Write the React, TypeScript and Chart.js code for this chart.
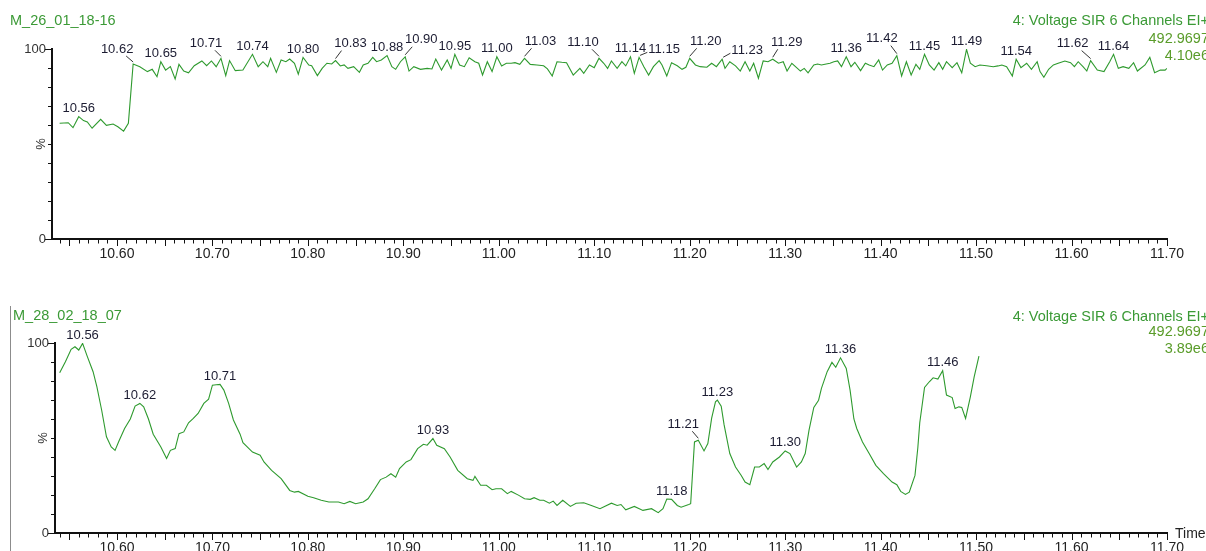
import React, { useEffect, useRef } from 'react';
import { Chart, registerables } from 'chart.js';

Chart.register(...registerables);

// ---------------------------------------------------------------------------
// Data
// ---------------------------------------------------------------------------
const RUN_TOP = 'M_26_01_18-16';
const RUN_BOTTOM = 'M_28_02_18_07';
const CHANNEL_NAME = '4: Voltage SIR 6 Channels EI+';
const CHANNEL_MASS = '492.9697';
const INTENSITY_TOP = '4.10e6';
const INTENSITY_BOTTOM = '3.89e6';
const AXIS_END_LABEL = 'Time';
const Y_AXIS_TITLE = '%';

const X_TICK_LABELS = ['10.60', '10.70', '10.80', '10.90', '11.00', '11.10', '11.20', '11.30', '11.40', '11.50', '11.60', '11.70'];
const Y_TICK_LABELS = ['0', '100'];

// Retention time (min) / relative intensity (%) — upper trace
const TOP_TIMES = [
  10.540, 10.549, 10.554, 10.560, 10.565, 10.569, 10.574, 10.583, 10.589, 10.596, 10.601, 10.607, 10.612,
  10.617, 10.624, 10.632, 10.637, 10.642, 10.646, 10.651, 10.656, 10.661, 10.665, 10.670, 10.675, 10.681,
  10.689, 10.694, 10.699, 10.704, 10.709, 10.714, 10.718, 10.724, 10.732, 10.742, 10.748, 10.753, 10.758,
  10.761, 10.767, 10.772, 10.777, 10.781, 10.786, 10.790, 10.795, 10.801, 10.804, 10.810, 10.815, 10.820,
  10.825, 10.829, 10.834, 10.838, 10.842, 10.848, 10.854, 10.858, 10.863, 10.868, 10.872, 10.877, 10.883,
  10.888, 10.892, 10.897, 10.902, 10.906, 10.911, 10.918, 10.925, 10.930, 10.934, 10.940, 10.946, 10.950,
  10.954, 10.959, 10.964, 10.969, 10.975, 10.979, 10.983, 10.988, 10.993, 10.998, 11.003, 11.008, 11.013,
  11.017, 11.022, 11.027, 11.033, 11.040, 11.047, 11.051, 11.056, 11.061, 11.066, 11.071, 11.078, 11.085,
  11.089, 11.095, 11.100, 11.105, 11.110, 11.114, 11.118, 11.124, 11.129, 11.133, 11.138, 11.142, 11.147,
  11.152, 11.157, 11.162, 11.168, 11.171, 11.176, 11.181, 11.187, 11.192, 11.196, 11.200, 11.206, 11.211,
  11.218, 11.223, 11.228, 11.234, 11.237, 11.242, 11.248, 11.253, 11.258, 11.263, 11.267, 11.272, 11.277,
  11.282, 11.287, 11.293, 11.298, 11.302, 11.307, 11.312, 11.316, 11.320, 11.324, 11.330, 11.334, 11.338,
  11.343, 11.347, 11.351, 11.355, 11.359, 11.364, 11.369, 11.373, 11.379, 11.384, 11.388, 11.393, 11.398,
  11.402, 11.407, 11.412, 11.417, 11.422, 11.427, 11.432, 11.437, 11.441, 11.446, 11.451, 11.456, 11.461,
  11.465, 11.469, 11.475, 11.480, 11.485, 11.490, 11.494, 11.499, 11.504, 11.511, 11.518, 11.523, 11.527,
  11.532, 11.538, 11.542, 11.547, 11.553, 11.558, 11.564, 11.567, 11.571, 11.576, 11.581, 11.586, 11.593,
  11.599, 11.603, 11.607, 11.612, 11.616, 11.620, 11.627, 11.634, 11.640, 11.644, 11.649, 11.654, 11.660,
  11.665, 11.669, 11.677, 11.682, 11.687, 11.693, 11.698, 11.700,
];
const TOP_VALUES = [
  60.9, 61.2, 58.6, 64.4, 62.3, 61.6, 58.3, 63.0, 59.8, 60.5, 59.1, 56.8, 60.9,
  92.1, 90.7, 88.1, 89.3, 85.4, 93.3, 88.9, 90.7, 84.2, 91.9, 88.4, 87.5, 91.2,
  93.7, 91.2, 93.7, 90.7, 95.1, 86.0, 93.9, 88.6, 88.9, 97.2, 90.7, 93.3, 90.7,
  95.1, 87.7, 94.2, 93.3, 94.7, 92.5, 86.8, 95.6, 91.6, 91.2, 86.0, 89.8, 92.5,
  92.1, 93.9, 91.1, 91.6, 89.8, 90.7, 87.7, 91.6, 92.5, 95.6, 93.3, 94.2, 96.5,
  90.7, 89.3, 93.3, 95.9, 88.4, 90.7, 89.3, 89.8, 89.5, 94.7, 88.9, 94.2, 89.8,
  97.2, 91.6, 90.7, 95.4, 93.3, 92.5, 86.3, 93.3, 88.1, 95.9, 91.1, 92.5, 92.5,
  92.8, 91.9, 95.1, 91.9, 91.6, 91.2, 89.5, 85.8, 93.3, 93.0, 92.8, 86.3, 89.8,
  87.2, 91.6, 90.2, 95.1, 92.5, 89.8, 93.7, 89.8, 93.3, 91.1, 95.9, 87.2, 95.6,
  90.7, 86.3, 90.7, 93.9, 91.6, 85.8, 92.8, 91.2, 89.3, 90.4, 95.1, 91.6, 90.7,
  90.4, 92.5, 90.7, 94.6, 89.8, 93.3, 91.1, 88.4, 93.3, 88.4, 92.5, 84.6, 93.7,
  93.3, 94.6, 92.5, 93.3, 88.4, 92.5, 90.2, 88.4, 89.8, 87.5, 91.6, 92.1, 91.6,
  92.1, 92.5, 93.3, 93.7, 90.7, 95.9, 90.7, 93.0, 88.6, 92.5, 91.6, 90.7, 94.2,
  88.9, 91.6, 92.5, 96.5, 85.8, 93.3, 86.3, 91.9, 89.3, 97.2, 91.6, 88.9, 92.8,
  89.3, 93.3, 90.2, 92.8, 87.5, 99.8, 92.5, 90.7, 91.6, 91.2, 90.7, 91.1, 91.6,
  90.7, 85.8, 94.6, 90.2, 92.5, 89.3, 93.3, 88.1, 85.1, 89.3, 91.6, 92.5, 93.7,
  92.8, 90.7, 93.3, 90.7, 88.4, 93.9, 88.9, 88.1, 93.3, 97.2, 89.8, 90.7, 89.8,
  92.8, 88.4, 91.6, 95.6, 87.5, 88.9, 88.9, 89.8,
];
const TOP_PEAKS = [
  '10.56', '10.62', '10.65', '10.71', '10.74', '10.80', '10.83', '10.88', '10.90', '10.95', '11.00', '11.03',
  '11.10', '11.14', '11.15', '11.20', '11.23', '11.29', '11.36', '11.42', '11.45', '11.49', '11.54', '11.62', '11.64',
];

// Retention time (min) / relative intensity (%) — lower trace
const BOTTOM_TIMES = [
  10.540, 10.546, 10.552, 10.556, 10.560, 10.564, 10.569, 10.575, 10.579, 10.584, 10.589, 10.594, 10.598,
  10.602, 10.608, 10.614, 10.619, 10.624, 10.628, 10.633, 10.638, 10.646, 10.652, 10.656, 10.661, 10.665,
  10.670, 10.675, 10.680, 10.685, 10.691, 10.696, 10.700, 10.704, 10.708, 10.712, 10.717, 10.722, 10.729,
  10.732, 10.742, 10.750, 10.754, 10.762, 10.772, 10.781, 10.786, 10.790, 10.800, 10.806, 10.814, 10.822,
  10.832, 10.838, 10.844, 10.850, 10.858, 10.863, 10.870, 10.876, 10.882, 10.887, 10.892, 10.896, 10.903,
  10.908, 10.915, 10.921, 10.925, 10.931, 10.935, 10.943, 10.949, 10.957, 10.967, 10.973, 10.975, 10.981,
  10.987, 10.993, 10.997, 11.003, 11.009, 11.013, 11.021, 11.027, 11.033, 11.037, 11.043, 11.047, 11.053,
  11.057, 11.061, 11.067, 11.075, 11.081, 11.089, 11.097, 11.106, 11.118, 11.124, 11.128, 11.133, 11.142,
  11.151, 11.160, 11.167, 11.172, 11.176, 11.181, 11.187, 11.191, 11.199, 11.201, 11.205, 11.209, 11.215,
  11.219, 11.223, 11.227, 11.229, 11.233, 11.236, 11.242, 11.248, 11.254, 11.258, 11.263, 11.268, 11.273,
  11.278, 11.282, 11.287, 11.294, 11.300, 11.305, 11.312, 11.317, 11.321, 11.325, 11.330, 11.335, 11.338,
  11.344, 11.349, 11.353, 11.358, 11.364, 11.368, 11.372, 11.375, 11.381, 11.388, 11.395, 11.403, 11.412,
  11.417, 11.421, 11.426, 11.430, 11.436, 11.439, 11.441, 11.446, 11.451, 11.455, 11.460, 11.465, 11.469,
  11.475, 11.478, 11.482, 11.485, 11.489, 11.494, 11.498, 11.503,
];
const BOTTOM_VALUES = [
  84.3, 90.1, 96.7, 98.0, 96.3, 99.8, 92.8, 84.9, 76.9, 64.6, 50.6, 45.3, 43.5,
  48.3, 55.0, 60.0, 66.8, 68.2, 66.4, 60.0, 52.0, 45.3, 39.2, 43.5, 44.4, 52.3,
  53.2, 58.0, 60.3, 62.9, 68.2, 70.4, 77.8, 78.0, 78.2, 75.2, 68.2, 59.5, 52.0,
  47.5, 42.6, 40.9, 37.4, 33.0, 28.6, 22.4, 21.5, 21.9, 19.3, 18.6, 17.2, 16.3,
  16.3, 15.4, 16.6, 15.4, 16.3, 18.0, 23.3, 28.1, 29.4, 31.2, 29.4, 33.9, 37.4,
  38.6, 44.4, 46.7, 46.2, 49.7, 46.2, 44.4, 40.0, 33.0, 28.6, 27.7, 29.8, 25.1,
  25.1, 22.8, 23.3, 23.3, 20.7, 21.9, 19.8, 18.0, 17.7, 18.6, 17.2, 17.2, 15.7,
  16.8, 14.5, 17.2, 14.0, 15.7, 15.9, 14.5, 12.8, 15.7, 14.5, 15.0, 12.2, 14.0,
  11.9, 12.8, 10.7, 12.8, 17.9, 17.7, 14.5, 13.6, 15.0, 15.4, 47.9, 48.8, 43.2,
  47.1, 60.5, 69.0, 69.9, 66.8, 57.0, 41.8, 34.7, 30.3, 26.8, 25.4, 34.7, 34.7,
  36.5, 33.4, 37.4, 40.0, 43.2, 41.8, 34.7, 37.4, 41.8, 54.1, 66.1, 69.9, 76.1,
  84.9, 89.8, 87.2, 92.2, 86.6, 75.2, 60.0, 55.0, 47.9, 41.8, 35.6, 31.2, 26.8,
  25.4, 21.9, 20.3, 21.5, 30.3, 45.0, 58.0, 76.6, 79.6, 81.7, 81.0, 85.4, 72.6,
  71.3, 65.5, 66.4, 66.1, 60.3, 71.7, 82.2, 93.1,
];
const BOTTOM_PEAKS = ['10.56', '10.62', '10.71', '10.93', '11.18', '11.21', '11.23', '11.30', '11.36', '11.46'];

// ---------------------------------------------------------------------------
// Presentation
// ---------------------------------------------------------------------------
const FONT = "'Liberation Sans', Arial, Helvetica, sans-serif";
const TRACE_COLOR = '#2e9a2e';
const PEAK_INK = '#1c1c32';
const AXIS_INK = '#111111';
const TITLE_GREEN = '#3b9a36';
const INFO_GREEN = '#5a9c2a';

Chart.defaults.font.family = FONT;

// Offsets (px) of peak annotations that sit away from their apex, with a leader line.
const TOP_LABEL_OFFSETS: Record<string, [number, number]> = {
  '10.62': [-16, -15],
  '10.71': [-15, -15],
  '10.83': [15, -17],
  '10.90': [16, -17],
  '11.03': [16, -17],
  '11.10': [-16, -16],
  '11.15': [25, -8],
  '11.20': [16, -17],
  '11.23': [25, -9],
  '11.29': [14, -17],
  '11.42': [-15, -17],
  '11.62': [-18, -17],
};
const BOTTOM_LABEL_OFFSETS: Record<string, [number, number]> = {
  '11.18': [5, -8],
  '11.21': [-15, -16],
};

interface PanelSpec {
  times: number[];
  values: number[];
  peaks: string[];
  offsets: Record<string, [number, number]>;
  run: string;
  intensity: string;
  height: number;
  areaTop: number;
  yAxisWidth: number;
  xAxisHeight: number;
  xMin: number;
  titleX: number;
  titleY: number;
  infoY: number[];
  yTitlePad: number;
  frame: boolean;
  endLabel: boolean;
}

const X_MAX = 11.7;
const X_TICK_VALUES = Array.from({ length: 117 }, (_, i) => (1054 + i) / 100);
const Y_TICK_VALUES = Array.from({ length: 11 }, (_, i) => i * 10);

function xLabel(v: number): string {
  const hit = X_TICK_LABELS.find((l) => Math.abs(parseFloat(l) - v) < 1e-6);
  return hit ?? '';
}
function yLabel(v: number): string {
  const hit = Y_TICK_LABELS.find((l) => Math.abs(parseFloat(l) - v) < 1e-6);
  return hit ?? '';
}

function apexIndex(times: number[], values: number[], label: string): number {
  const t = parseFloat(label);
  let best = -1;
  for (let i = 0; i < times.length; i++) {
    if (Math.abs(times[i] - t) <= 0.008 && (best < 0 || values[i] > values[best])) best = i;
  }
  return best;
}

function decorPlugin(spec: PanelSpec) {
  return {
    id: 'chromDecor',
    afterDraw(chart: any) {
      const ctx: CanvasRenderingContext2D = chart.ctx;
      const xs = chart.scales.x;
      const ys = chart.scales.y;
      const area = chart.chartArea;
      ctx.save();

      // axis tick marks: long at every 0.05 min / at 0 and 100 %
      ctx.strokeStyle = AXIS_INK;
      ctx.lineWidth = 1;
      ctx.beginPath();
      for (const t of xs.ticks) {
        const x = Math.round(xs.getPixelForValue(t.value)) + 0.5;
        const major = Math.round(t.value * 100) % 5 === 0;
        ctx.moveTo(x, area.bottom + 1);
        ctx.lineTo(x, area.bottom + 1 + (major ? 6 : 3.5));
      }
      for (const t of ys.ticks) {
        const y = Math.round(ys.getPixelForValue(t.value)) + 0.5;
        const major = t.value === 0 || t.value === 100;
        ctx.moveTo(area.left - 1, y);
        ctx.lineTo(area.left - 1 - (major ? 6 : 3), y);
      }
      ctx.stroke();

      // panel frame on the left
      if (spec.frame) {
        ctx.strokeStyle = '#8c8c8c';
        ctx.beginPath();
        ctx.moveTo(10.5, 26);
        ctx.lineTo(10.5, spec.height);
        ctx.stroke();
      }

      // run name and channel block
      ctx.textBaseline = 'middle';
      ctx.font = `14.5px ${FONT}`;
      ctx.textAlign = 'left';
      ctx.fillStyle = TITLE_GREEN;
      ctx.fillText(spec.run, spec.titleX, spec.titleY);
      ctx.textAlign = 'right';
      ctx.fillText(CHANNEL_NAME, 1209, spec.infoY[0]);
      ctx.fillStyle = INFO_GREEN;
      ctx.fillText(CHANNEL_MASS, 1209, spec.infoY[1]);
      ctx.fillText(spec.intensity, 1209, spec.infoY[2]);

      if (spec.endLabel) {
        ctx.font = `14px ${FONT}`;
        ctx.textAlign = 'left';
        ctx.fillStyle = '#222';
        ctx.fillText(AXIS_END_LABEL, area.right + 8, area.bottom + 1);
      }

      // peak retention-time annotations
      ctx.font = `13px ${FONT}`;
      ctx.textAlign = 'center';
      ctx.fillStyle = PEAK_INK;
      ctx.strokeStyle = '#333';
      ctx.lineWidth = 1;
      for (const label of spec.peaks) {
        const i = apexIndex(spec.times, spec.values, label);
        if (i < 0) continue;
        const px = xs.getPixelForValue(spec.times[i]);
        const py = ys.getPixelForValue(spec.values[i]);
        const [dx, dy] = spec.offsets[label] ?? [0, -8];
        const lx = px + dx;
        const ly = py + dy;
        if (Math.abs(dx) >= 10) {
          const s = Math.sign(dx);
          ctx.beginPath();
          if (Math.abs(dy) >= 12) {
            ctx.moveTo(px, py - 2);
            ctx.lineTo(lx - s * 9, ly + 7);
          } else {
            const hw = ctx.measureText(label).width / 2;
            ctx.moveTo(px + s, py - 2);
            ctx.lineTo(lx - s * (hw + 1), ly + 3);
          }
          ctx.stroke();
        }
        ctx.fillText(label, lx, ly);
      }
      ctx.restore();
    },
  };
}

function Panel({ spec, top }: { spec: PanelSpec; top: number }) {
  const ref = useRef<HTMLCanvasElement | null>(null);

  useEffect(() => {
    if (!ref.current) return;
    const chart = new Chart(ref.current, {
      type: 'line',
      data: {
        datasets: [
          {
            data: spec.times.map((t, i) => ({ x: t, y: spec.values[i] })),
            borderColor: TRACE_COLOR,
            borderWidth: 1.1,
            pointRadius: 0,
            tension: 0,
            fill: false,
          },
        ],
      },
      options: {
        responsive: false,
        animation: false,
        events: [],
        layout: { padding: { top: spec.areaTop, right: 39, bottom: 0, left: 0 } },
        plugins: {
          legend: { display: false },
          tooltip: { enabled: false },
          title: { display: false },
        },
        scales: {
          x: {
            type: 'linear',
            min: spec.xMin,
            max: X_MAX,
            afterFit: (s: any) => {
              s.height = spec.xAxisHeight;
            },
            afterBuildTicks: (s: any) => {
              s.ticks = X_TICK_VALUES.map((v) => ({ value: v }));
            },
            grid: { display: false, drawTicks: false },
            border: { display: true, color: AXIS_INK, width: 2 },
            ticks: {
              autoSkip: false,
              maxRotation: 0,
              minRotation: 0,
              padding: 7,
              color: '#222',
              font: { family: FONT, size: 14 },
              callback: (v: any) => xLabel(Number(v)),
            },
          },
          y: {
            type: 'linear',
            min: 0,
            max: 100,
            afterFit: (s: any) => {
              s.width = spec.yAxisWidth;
            },
            afterBuildTicks: (s: any) => {
              s.ticks = Y_TICK_VALUES.map((v) => ({ value: v }));
            },
            grid: { display: false, drawTicks: false },
            border: { display: true, color: AXIS_INK, width: 2 },
            ticks: {
              autoSkip: false,
              padding: 6,
              color: '#333',
              font: { family: FONT, size: 13 },
              callback: (v: any) => yLabel(Number(v)),
            },
            title: {
              display: true,
              text: Y_AXIS_TITLE,
              color: '#333',
              font: { family: FONT, size: 13 },
              padding: { top: spec.yTitlePad, bottom: 0 },
            },
          },
        },
      },
      plugins: [decorPlugin(spec)],
    } as any);
    return () => chart.destroy();
  }, [spec]);

  return (
    <canvas
      ref={ref}
      width={1206}
      height={spec.height}
      style={{ position: 'absolute', left: 0, top, width: 1206, height: spec.height, display: 'block' }}
    />
  );
}

const TOP_SPEC: PanelSpec = {
  times: TOP_TIMES,
  values: TOP_VALUES,
  peaks: TOP_PEAKS,
  offsets: TOP_LABEL_OFFSETS,
  run: RUN_TOP,
  intensity: INTENSITY_TOP,
  height: 280,
  areaTop: 49,
  yAxisWidth: 52,
  xAxisHeight: 41,
  xMin: 10.532,
  titleX: 10,
  titleY: 21,
  infoY: [21, 39, 56],
  yTitlePad: 34,
  frame: false,
  endLabel: false,
};

const BOTTOM_SPEC: PanelSpec = {
  times: BOTTOM_TIMES,
  values: BOTTOM_VALUES,
  peaks: BOTTOM_PEAKS,
  offsets: BOTTOM_LABEL_OFFSETS,
  run: RUN_BOTTOM,
  intensity: INTENSITY_BOTTOM,
  height: 271,
  areaTop: 63,
  yAxisWidth: 55,
  xAxisHeight: 18,
  xMin: 10.5351,
  titleX: 13,
  titleY: 36,
  infoY: [37, 52, 69],
  yTitlePad: 36,
  frame: true,
  endLabel: true,
};

export default function App() {
  return (
    <div
      style={{
        position: 'fixed',
        left: 0,
        top: 0,
        width: 1206,
        height: 551,
        overflow: 'hidden',
        background: '#ffffff',
      }}
    >
      <Panel spec={TOP_SPEC} top={0} />
      <Panel spec={BOTTOM_SPEC} top={280} />
    </div>
  );
}
